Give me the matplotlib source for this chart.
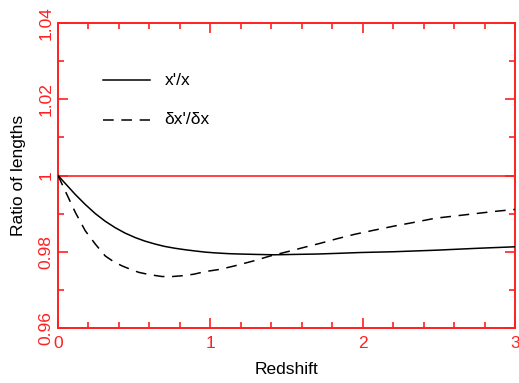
import matplotlib
matplotlib.use("Agg")
import matplotlib.pyplot as plt
from matplotlib.ticker import MultipleLocator

# Values
z_solid = [0.0, 0.048, 0.114, 0.179, 0.245, 0.31, 0.376, 0.44, 0.508, 0.57, 0.639, 0.70,
           0.770, 0.84, 0.901, 0.967, 1.033, 1.12, 1.197, 1.30, 1.416, 1.55, 1.70,
           1.85, 1.985, 2.2, 2.477, 2.75, 3.0]
r_solid = [1.0, 0.9979, 0.9950, 0.9924, 0.9900, 0.9880, 0.9863, 0.9849, 0.9837, 0.9828,
           0.9820, 0.9814, 0.9809, 0.9805, 0.9802, 0.9799, 0.9797, 0.9795, 0.9794, 0.9793,
           0.9792, 0.9793, 0.9794, 0.9796, 0.9798, 0.9800, 0.9804, 0.9809, 0.9813]

z_dash = [0.0, 0.048, 0.114, 0.179, 0.245, 0.31, 0.365, 0.42, 0.475, 0.53, 0.60, 0.683,
          0.75, 0.814, 0.89, 0.967, 1.066, 1.17, 1.284, 1.394, 1.525, 1.62, 1.72, 1.83,
          1.95, 2.08, 2.215, 2.35, 2.477, 2.61, 2.74, 2.87, 3.0]
r_dash = [1.0, 0.9959, 0.9903, 0.9855, 0.9820, 0.9789, 0.9774, 0.9763, 0.9754, 0.9746,
          0.9740, 0.9735, 0.9735, 0.9737, 0.9741, 0.9748, 0.9754, 0.9764, 0.9776, 0.9789,
          0.9802, 0.9812, 0.9822, 0.9834, 0.9846, 0.9857, 0.9868, 0.9878, 0.9888, 0.9894,
          0.9900, 0.9906, 0.9911]

x_ticks = [0, 1, 2, 3]
y_ticks = [0.96, 0.98, 1.0, 1.02, 1.04]
y_tick_labels = ["0.96", "0.98", "1", "1.02", "1.04"]

plt.rcParams['font.family'] = ['Liberation Sans', 'DejaVu Sans']
red = "#ff2020"

fig = plt.figure(figsize=(5.19, 3.83), dpi=100)
ax = fig.add_axes([58 / 519, 1 - 328 / 383, (515 - 58) / 519, (328 - 23) / 383])

ax.axhline(1.0, color=red, linewidth=1.2, zorder=1)
ax.plot(z_solid, r_solid, color="black", linewidth=1.1, zorder=3)
ax.plot(z_dash, r_dash, color="black", linewidth=1.1, dashes=(7, 5), zorder=3)

ax.set_xlim(0, 3)
ax.set_ylim(0.96, 1.04)
ax.set_xticks(x_ticks)
ax.set_xticklabels([str(t) for t in x_ticks])
ax.set_yticks(y_ticks)
ax.set_yticklabels(y_tick_labels, rotation=90, va="center")
ax.xaxis.set_minor_locator(MultipleLocator(0.2))
ax.yaxis.set_minor_locator(MultipleLocator(0.01))

ax.tick_params(which="both", direction="in", top=True, right=True, color=red,
               labelcolor=red, labelsize=12.5, width=1.2)
ax.tick_params(which="major", length=7)
ax.tick_params(axis="x", which="major", pad=6)
ax.tick_params(axis="y", which="major", pad=3)
ax.tick_params(which="minor", length=4)
for s in ax.spines.values():
    s.set_color(red)
    s.set_linewidth(1.4)

ax.set_xlabel("Redshift", fontsize=12.5, labelpad=8)
ax.set_ylabel("Ratio of lengths", fontsize=12.5, labelpad=9)

# legend drawn by hand as in the original
ax.plot([0.295, 0.604], [1.025, 1.025], color="black", linewidth=1.1)
ax.text(0.70, 1.025, "x'/x", fontsize=12.5, va="center")
ax.plot([0.295, 0.604], [1.0146, 1.0146], color="black", linewidth=1.1, dashes=(7, 5))
ax.text(0.70, 1.0146, "δx'/δx", fontsize=12.5, va="center")

fig.savefig("out.png", dpi=100)
